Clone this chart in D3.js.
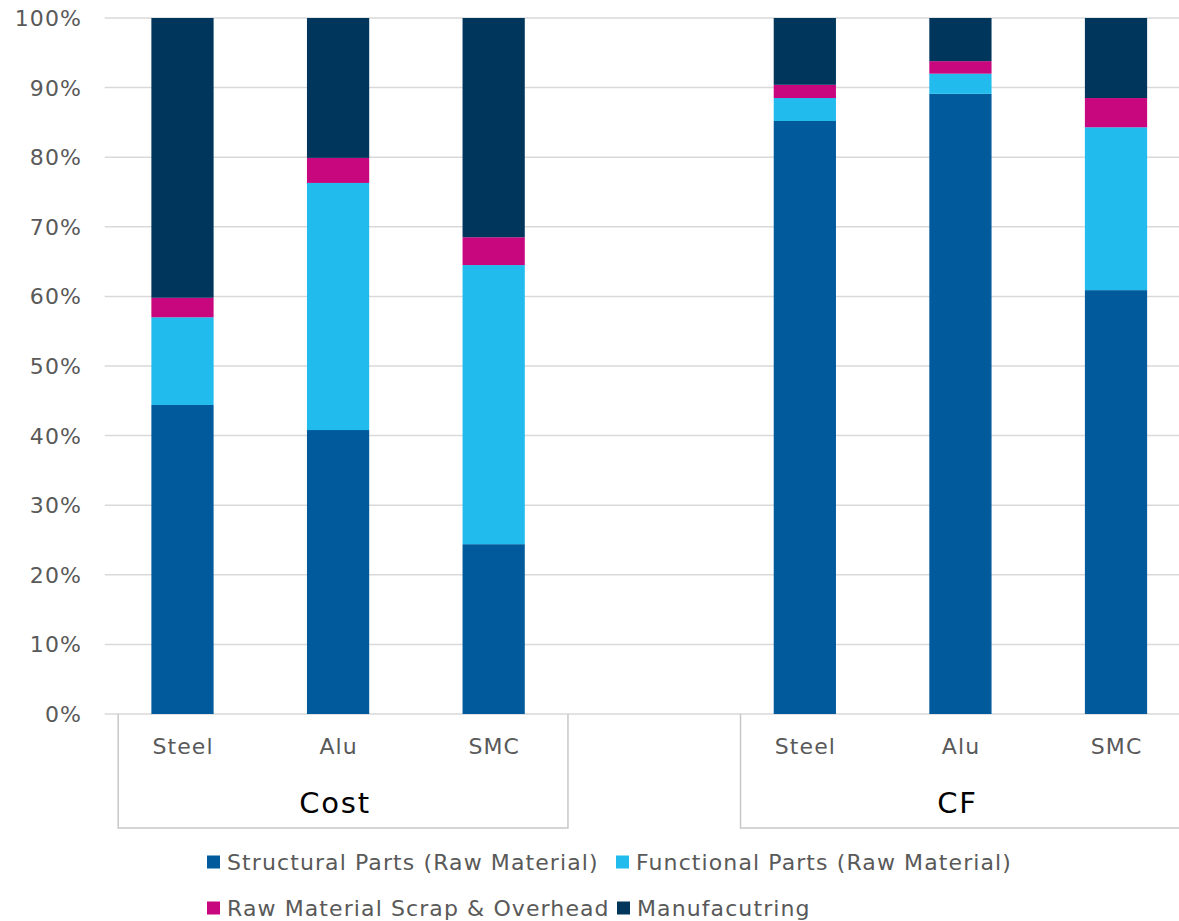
<!DOCTYPE html>
<html><head><meta charset="utf-8">
<script src="https://cdn.jsdelivr.net/npm/d3@7"></script>
<style>body{margin:0;background:#fff}svg{display:block}</style>
</head><body>
<script>
const groups = ["Cost", "CF"];
const materials = ["Steel", "Alu", "SMC"];
const seriesNames = ["Structural Parts (Raw Material)", "Functional Parts (Raw Material)", "Raw Material Scrap & Overhead", "Manufacutring"];
const structural = [44.4, 40.8, 24.4, 85.2, 89.1, 60.9];
const functional = [12.6, 35.5, 40.1, 3.3, 2.9, 23.4];
const scrap = [2.8, 3.6, 4.0, 1.9, 1.8, 4.2];
const manufacturing = [40.2, 20.1, 31.5, 9.6, 6.2, 11.5];
const yTicks = [0, 10, 20, 30, 40, 50, 60, 70, 80, 90, 100];
const colors = ["#005A9B", "#22BBEE", "#C8077F", "#00365C"];

const W = 1179, H = 921;
const svg = d3.select("body").append("svg").attr("width", W).attr("height", H);
const font = "'DejaVu Sans', Verdana, sans-serif";
const LS = 1.1;

const slots = [];
groups.forEach((g, gi) => {
  if (gi > 0) slots.push("gap" + gi);
  materials.forEach(m => slots.push(g + "|" + m));
});
const rows = [];
groups.forEach((g, gi) => materials.forEach((m, mi) => {
  const i = gi * materials.length + mi;
  rows.push({key: g + "|" + m, group: g, material: m,
    s0: structural[i], s1: functional[i], s2: scrap[i], s3: manufacturing[i]});
}));

const x = d3.scaleBand().domain(slots).range([104.7, 1193.8]).paddingInner(0.6).paddingOuter(0.3);
const y = d3.scaleLinear().domain([0, 100]).range([714, 18]);
const step = x.step();

svg.append("g").selectAll("line").data(yTicks).join("line")
  .attr("x1", 104.7).attr("x2", W).attr("y1", d => y(d)).attr("y2", d => y(d))
  .attr("stroke", "#d9d9d9").attr("stroke-width", 1.5);

svg.append("g").selectAll("text").data(yTicks).join("text")
  .attr("x", 82).attr("y", d => y(d)).attr("dy", "0.36em")
  .attr("text-anchor", "end").attr("font-family", font).attr("font-size", 22)
  .attr("letter-spacing", LS).attr("fill", "#595959").text(d => d + "%");

const stack = d3.stack().keys(["s0", "s1", "s2", "s3"]);
const stacked = stack(rows);
svg.append("g").selectAll("g").data(stacked).join("g")
  .attr("fill", (d, i) => colors[i])
  .selectAll("rect").data(d => d).join("rect")
  .attr("x", d => x(d.data.key)).attr("width", x.bandwidth())
  .attr("y", d => y(d[1])).attr("height", d => y(d[0]) - y(d[1]));

svg.append("g").selectAll("text").data(rows).join("text")
  .attr("x", d => x(d.key) + x.bandwidth() / 2 + LS / 2).attr("y", 754)
  .attr("text-anchor", "middle").attr("font-family", font).attr("font-size", 22)
  .attr("letter-spacing", LS).attr("fill", "#595959").text(d => d.material);

groups.forEach(g => {
  const first = x(g + "|" + materials[0]) - step * 0.3;
  const last = x(g + "|" + materials[materials.length - 1]) + x.bandwidth() + step * 0.3;
  const l = first + 13.5, r = last - 3.5;
  svg.append("path")
    .attr("d", `M${l},714V828H${r}V714`)
    .attr("fill", "none").attr("stroke", "#c8c8c8").attr("stroke-width", 1.5);
  svg.append("text").attr("x", (first + last) / 2 - 3).attr("y", 813)
    .attr("text-anchor", "middle").attr("font-family", font).attr("font-size", 29)
    .attr("letter-spacing", 1.8).attr("fill", "#000").text(g);
});

const legendPos = [[207, 862], [616, 862], [207, 908], [617, 908]];
const lg = svg.append("g").selectAll("g").data(seriesNames).join("g")
  .attr("transform", (d, i) => `translate(${legendPos[i][0]},${legendPos[i][1]})`);
lg.append("rect").attr("x", 0).attr("y", -6.5).attr("width", 13).attr("height", 13)
  .attr("fill", (d, i) => colors[i]);
lg.append("text").attr("x", 20).attr("y", 0).attr("dy", "0.36em")
  .attr("font-family", font).attr("font-size", 22).attr("letter-spacing", LS)
  .attr("fill", "#595959").text(d => d);
</script>
</body></html>
